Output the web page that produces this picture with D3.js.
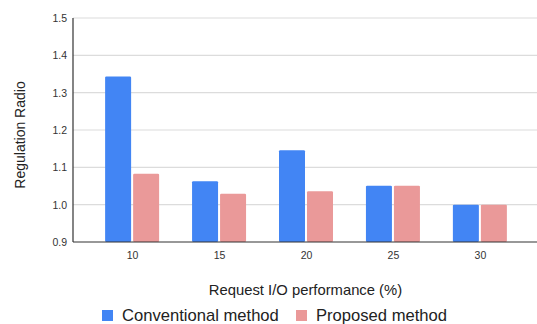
<!DOCTYPE html>
<html>
<head>
<meta charset="utf-8">
<script src="https://cdn.jsdelivr.net/npm/d3@7"></script>
<style>
  html, body { margin: 0; padding: 0; background: #fff; }
  svg { display: block; font-family: Arial, "Liberation Sans", sans-serif; }
</style>
</head>
<body>
<svg id="chart" width="537" height="324"></svg>
<script>
// Request I/O performance levels (%)
const categories = ["10", "15", "20", "25", "30"];
// Regulation ratio per method
const conventional = [1.343, 1.063, 1.146, 1.051, 1.0];
const proposed = [1.083, 1.029, 1.036, 1.051, 1.0];
const yTicks = [0.9, 1.0, 1.1, 1.2, 1.3, 1.4, 1.5];
const seriesNames = ["Conventional method", "Proposed method"];
const seriesColors = ["#4285f4", "#ea9999"];

const svg = d3.select("#chart");
const plot = { left: 73, right: 539, top: 18, bottom: 242 };

const x = d3.scalePoint().domain(categories).range([plot.left, plot.right]).padding(0.68);
const y = d3.scaleLinear().domain([0.9, 1.5]).range([plot.bottom, plot.top]);

const barW = 26, gap = 2;

// horizontal gridlines
svg.append("g")
  .selectAll("line")
  .data(yTicks.filter(d => d > 0.9))
  .join("line")
  .attr("x1", plot.left).attr("x2", 537)
  .attr("y1", d => y(d)).attr("y2", d => y(d))
  .attr("stroke", "#dcdcdc").attr("stroke-width", 1.2);

// y-axis tick labels
const yAxis = d3.axisLeft(y).tickValues(yTicks).tickFormat(d3.format(".1f")).tickSize(0).tickPadding(6);
svg.append("g")
  .attr("transform", `translate(${plot.left},0)`)
  .call(yAxis)
  .call(g => g.select(".domain").remove())
  .call(g => g.selectAll("text").attr("font-size", 10.5).attr("fill", "#333").attr("font-family", "Arial, 'Liberation Sans', sans-serif"));

// bars
const series = [conventional, proposed];
series.forEach((vals, si) => {
  svg.append("g")
    .selectAll("rect")
    .data(vals.map((v, i) => ({ c: categories[i], v })))
    .join("rect")
    .attr("x", d => x(d.c) - barW - gap / 2 + si * (barW + gap))
    .attr("y", d => y(d.v))
    .attr("width", barW)
    .attr("height", d => y(0.9) - y(d.v))
    .attr("rx", 1.2)
    .attr("fill", seriesColors[si]);
});

// axis lines
svg.append("line")
  .attr("x1", plot.left).attr("x2", plot.left)
  .attr("y1", plot.top).attr("y2", plot.bottom)
  .attr("stroke", "#333").attr("stroke-width", 1.2);
svg.append("line")
  .attr("x1", plot.left).attr("x2", 537)
  .attr("y1", plot.bottom).attr("y2", plot.bottom)
  .attr("stroke", "#333").attr("stroke-width", 1.2);

// x-axis tick labels
const xAxis = d3.axisBottom(x).tickSize(0).tickPadding(10);
svg.append("g")
  .attr("transform", `translate(0,${plot.bottom})`)
  .call(xAxis)
  .call(g => g.select(".domain").remove())
  .call(g => g.selectAll("text").attr("font-size", 10.5).attr("fill", "#333").attr("font-family", "Arial, 'Liberation Sans', sans-serif"));

// axis titles
svg.append("text")
  .attr("x", 305.5).attr("y", 295)
  .attr("text-anchor", "middle")
  .attr("font-size", 14.8).attr("fill", "#222")
  .text("Request I/O performance (%)");

svg.append("text")
  .attr("transform", "translate(25,135) rotate(-90)")
  .attr("text-anchor", "middle")
  .attr("font-size", 14).attr("fill", "#222")
  .text("Regulation Radio");

// legend
const legendX = [102, 296];
const legend = svg.append("g");
seriesNames.forEach((name, i) => {
  legend.append("rect")
    .attr("x", legendX[i]).attr("y", 310)
    .attr("width", 11).attr("height", 11)
    .attr("fill", seriesColors[i]);
  legend.append("text")
    .attr("x", legendX[i] + 20).attr("y", 321)
    .attr("font-size", 16.6).attr("fill", "#222")
    .text(name);
});
</script>
</body>
</html>
